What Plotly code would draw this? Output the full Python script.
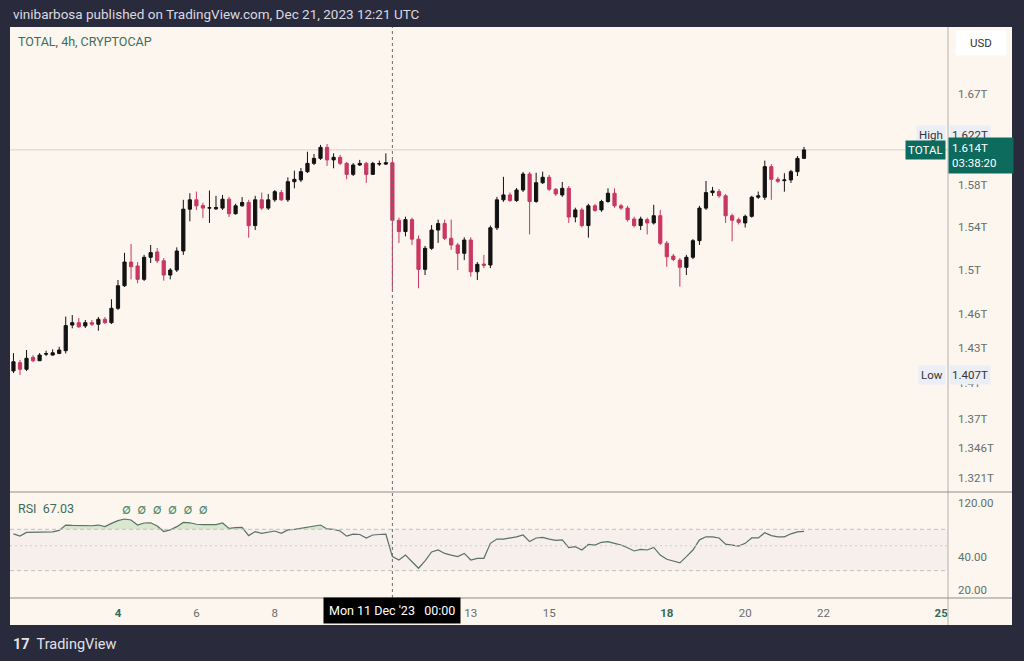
import numpy as np
import pandas as pd
import plotly.graph_objects as go

# ---------------- data (TOTAL crypto market cap, 4h candles, trillions USD) ----------------
start_time = "2023-12-01 08:00"
n_bars = 122

opens = [1.4105,1.4176,1.4119,1.4222,1.4193,1.4250,1.4242,1.4256,1.4280,1.4505,
         1.4526,1.4497,1.4526,1.4512,1.4556,1.4526,1.4654,1.4857,1.5073,1.5037,
         1.4915,1.5117,1.5166,1.5085,1.4954,1.5000,1.5175,1.5567,1.5656,1.5602,
         1.5577,1.5570,1.5577,1.5662,1.5524,1.5599,1.5631,1.5412,1.5656,1.5577,
         1.5656,1.5725,1.5656,1.5830,1.5847,1.5927,1.6008,1.6057,1.6165,1.6042,
         1.6067,1.6008,1.5901,1.5992,1.6008,1.5901,1.6001,1.6001,1.6014,1.5462,
         1.5356,1.5468,1.5285,1.5006,1.5200,1.5370,1.5431,1.5293,1.5231,1.5154,
         1.5277,1.4984,1.5055,1.5046,1.5391,1.5656,1.5703,1.5649,1.5750,1.5904,
         1.5640,1.5820,1.5873,1.5757,1.5703,1.5766,1.5493,1.5560,1.5412,1.5599,
         1.5560,1.5640,1.5719,1.5599,1.5577,1.5474,1.5412,1.5468,1.5437,1.5505,
         1.5247,1.5128,1.5091,1.5025,1.5117,1.5271,1.5577,1.5725,1.5735,1.5694,
         1.5505,1.5468,1.5437,1.5499,1.5681,1.5681,1.5976,1.5853,1.5840,1.5847,
         1.5927,1.6057]

highs = [1.4259,1.4200,1.4286,1.4242,1.4259,1.4280,1.4292,1.4314,1.4580,1.4594,
         1.4567,1.4550,1.4550,1.4576,1.4576,1.4735,1.4909,1.5158,1.5240,1.5073,
         1.5139,1.5231,1.5203,1.5110,1.5018,1.5209,1.5656,1.5719,1.5735,1.5628,
         1.5745,1.5694,1.5703,1.5684,1.5618,1.5682,1.5656,1.5694,1.5726,1.5712,
         1.5750,1.5750,1.5872,1.5937,1.5963,1.6122,1.6100,1.6189,1.6198,1.6106,
         1.6090,1.6023,1.6011,1.6042,1.6023,1.6023,1.6035,1.6106,1.6042,1.5487,
         1.5496,1.5487,1.5320,1.5222,1.5417,1.5468,1.5468,1.5468,1.5250,1.5302,
         1.5302,1.5073,1.5139,1.5412,1.5684,1.5877,1.5726,1.5769,1.5924,1.5924,
         1.5917,1.5927,1.5895,1.5769,1.5828,1.5788,1.5581,1.5581,1.5618,1.5618,
         1.5656,1.5766,1.5766,1.5618,1.5599,1.5496,1.5496,1.5487,1.5609,1.5560,
         1.5268,1.5148,1.5110,1.5139,1.5287,1.5599,1.5837,1.5780,1.5759,1.5712,
         1.5524,1.5487,1.5515,1.5694,1.5735,1.6035,1.6001,1.5876,1.5912,1.5944,
         1.6080,1.6170]

lows = [1.4087,1.4070,1.4104,1.4181,1.4190,1.4233,1.4237,1.4250,1.4256,1.4476,
        1.4479,1.4479,1.4497,1.4455,1.4514,1.4514,1.4639,1.4846,1.4915,1.4879,
        1.4900,1.5064,1.5064,1.4903,1.4915,1.4982,1.5139,1.5452,1.5560,1.5484,
        1.5437,1.5560,1.5560,1.5493,1.5515,1.5590,1.5299,1.5370,1.5560,1.5560,
        1.5637,1.5646,1.5637,1.5766,1.5827,1.5914,1.5992,1.6042,1.5983,1.5960,
        1.5992,1.5853,1.5885,1.5983,1.5819,1.5895,1.5983,1.5992,1.4818,1.5250,
        1.5311,1.5231,1.4834,1.4954,1.5185,1.5250,1.5277,1.5185,1.5000,1.5091,
        1.4939,1.4909,1.5018,1.5018,1.5370,1.5637,1.5637,1.5637,1.5731,1.5329,
        1.5628,1.5808,1.5741,1.5694,1.5684,1.5437,1.5443,1.5394,1.5299,1.5542,
        1.5542,1.5628,1.5581,1.5560,1.5449,1.5394,1.5370,1.5329,1.5422,1.5231,
        1.5030,1.5082,1.4849,1.4954,1.5100,1.5231,1.5560,1.5694,1.5675,1.5437,
        1.5265,1.5422,1.5394,1.5487,1.5665,1.5656,1.5656,1.5818,1.5734,1.5818,
        1.5885,1.6050]

closes = [1.4184,1.4119,1.4214,1.4193,1.4242,1.4254,1.4262,1.4286,1.4500,1.4526,
          1.4490,1.4526,1.4512,1.4556,1.4526,1.4654,1.4857,1.5073,1.5030,1.4915,
          1.5117,1.5160,1.5085,1.4954,1.5000,1.5175,1.5567,1.5656,1.5599,1.5577,
          1.5580,1.5583,1.5662,1.5524,1.5599,1.5631,1.5412,1.5656,1.5577,1.5656,
          1.5734,1.5656,1.5830,1.5853,1.5927,1.6008,1.6057,1.6165,1.6042,1.6067,
          1.6008,1.5901,1.5992,1.6008,1.5901,1.6008,1.6006,1.6014,1.5462,1.5356,
          1.5468,1.5285,1.5006,1.5200,1.5370,1.5431,1.5293,1.5231,1.5154,1.5277,
          1.4984,1.5052,1.5043,1.5391,1.5656,1.5703,1.5649,1.5750,1.5904,1.5640,
          1.5820,1.5873,1.5757,1.5712,1.5766,1.5493,1.5560,1.5412,1.5599,1.5555,
          1.5640,1.5719,1.5599,1.5577,1.5468,1.5412,1.5474,1.5437,1.5505,1.5247,
          1.5122,1.5097,1.5025,1.5117,1.5271,1.5577,1.5725,1.5741,1.5694,1.5505,
          1.5462,1.5443,1.5499,1.5681,1.5694,1.5976,1.5853,1.5834,1.5847,1.5927,
          1.6057,1.6140]

rsi = [63.8,61.0,65.6,65.6,66.0,66.0,66.5,68.4,76.4,75.8,
       75.3,75.8,75.3,76.4,73.9,79.0,83.6,86.4,84.7,76.4,
       79.6,80.0,74.9,66.8,69.2,73.9,80.5,80.0,77.6,77.0,
       77.0,77.0,79.6,71.3,72.3,72.8,61.5,66.8,64.4,65.5,
       67.6,64.4,69.2,70.0,71.3,72.8,73.9,76.4,70.5,70.0,
       67.6,60.8,63.3,62.9,58.6,62.3,62.9,63.3,40.0,37.3,
       41.3,36.3,31.5,36.7,44.0,45.8,42.7,41.3,40.0,42.7,
       37.3,38.6,38.6,52.5,57.3,57.3,58.6,60.0,62.3,54.4,
       58.6,59.3,57.2,55.7,56.4,48.0,49.0,45.8,51.3,50.7,
       53.6,54.4,52.5,50.7,48.0,44.9,46.4,45.8,48.3,41.3,
       37.9,36.7,35.2,40.0,45.8,56.4,60.0,60.0,58.6,51.7,
       50.5,49.7,52.5,58.6,58.6,65.2,61.5,60.0,60.0,63.8,
       66.3,67.03]

price_ticks = [1.321, 1.346, 1.37, 1.4, 1.43, 1.46, 1.5, 1.54, 1.58, 1.67]
price_tick_labels = ["1.321T", "1.346T", "1.37T", "1.4T", "1.43T", "1.46T", "1.5T", "1.54T", "1.58T", "1.67T"]
rsi_ticks = [20, 40, 120]
rsi_tick_labels = ["20.00", "40.00", "120.00"]
# the 11 Dec tick sits under the crosshair date label, so it is not listed
date_ticks = ["2023-12-04", "2023-12-06", "2023-12-08", "2023-12-13",
              "2023-12-15", "2023-12-18", "2023-12-20", "2023-12-22", "2023-12-25"]
date_tick_labels = ["4", "6", "8", "13", "15", "18", "20", "22", "25"]
bold_days = {"4", "18", "25"}
session_high = 1.622
session_low = 1.407
last_price = 1.614
crosshair_time = "2023-12-11 00:00"

# ---------------- figure ----------------
times = pd.date_range(start_time, periods=n_bars, freq="4h")
W, H = 1024, 661
px = lambda v: v / W
py = lambda v: 1 - v / H

x_dom = [px(10), px(948)]
main_dom = [py(492), py(27)]
rsi_dom = [py(598), py(492)]
x_range = ["2023-12-01 05:53", "2023-12-25 04:10"]

CREAM = "#fcf6ee"
DARK = "#292a3b"
UP = "#121212"
DOWN = "#c93762"
GREEN_TXT = "#3d6d5b"
FONT = "Roboto, Inter, sans-serif"

fig = go.Figure()

fig.add_trace(go.Candlestick(
    x=times, open=opens, high=highs, low=lows, close=closes,
    xaxis="x", yaxis="y",
    increasing=dict(line=dict(color=UP, width=1), fillcolor=UP),
    decreasing=dict(line=dict(color=DOWN, width=1), fillcolor=DOWN),
    whiskerwidth=0, showlegend=False, hoverinfo="skip",
))

# RSI overbought fill
rsi_arr = np.array(rsi)
fig.add_trace(go.Scatter(x=times, y=[70] * n_bars, xaxis="x2", yaxis="y2",
                         mode="lines", line=dict(width=0), showlegend=False, hoverinfo="skip"))
fig.add_trace(go.Scatter(x=times, y=np.maximum(rsi_arr, 70), xaxis="x2", yaxis="y2",
                         mode="lines", line=dict(width=0), fill="tonexty",
                         fillcolor="rgba(76,175,80,0.20)", showlegend=False, hoverinfo="skip"))
fig.add_trace(go.Scatter(x=times, y=rsi, xaxis="x2", yaxis="y2", mode="lines",
                         line=dict(color="#5a7169", width=1.2), showlegend=False, hoverinfo="skip"))

axis_common = dict(showgrid=False, zeroline=False, showline=False)
date_text = [f"<b><span style='color:#2f6b58'>{t}</span></b>" if t in bold_days else t
             for t in date_tick_labels]

fig.update_layout(
    width=W, height=H,
    margin=dict(l=0, r=0, t=0, b=0),
    paper_bgcolor=DARK, plot_bgcolor="rgba(0,0,0,0)",
    font=dict(family=FONT, size=11, color="#666"),
    showlegend=False,
    xaxis=dict(domain=x_dom, anchor="y", range=x_range, showticklabels=False,
               rangeslider=dict(visible=False), ticks="", **axis_common),
    yaxis=dict(domain=main_dom, anchor="x", type="log", side="right",
               range=[np.log10(1.3101), np.log10(1.7396)],
               tickvals=price_ticks, ticktext=price_tick_labels, ticks="",
               ticklabelstandoff=9, tickfont=dict(size=11.5, color="#62706a", family=FONT),
               **axis_common),
    xaxis2=dict(domain=x_dom, anchor="y2", range=x_range, type="date",
                tickvals=date_ticks, ticktext=date_text, ticks="",
                ticklabelstandoff=6, tickfont=dict(size=11.5, color="#6b6b6b", family=FONT),
                **axis_common),
    yaxis2=dict(domain=rsi_dom, anchor="x2", type="log", side="right",
                range=[np.log10(17.13), np.log10(150.3)],
                tickvals=rsi_ticks, ticktext=rsi_tick_labels, ticks="",
                ticklabelstandoff=9, tickfont=dict(size=11.5, color="#62706a", family=FONT),
                **axis_common),
)

shapes = [
    # cream chart frame
    dict(type="rect", xref="paper", yref="paper", x0=px(10), x1=px(1012), y0=py(625), y1=py(27),
         fillcolor=CREAM, line=dict(width=0), layer="below"),
    # RSI 30-70 band
    dict(type="rect", xref="x2 domain", yref="y2", x0=0, x1=1, y0=30, y1=70,
         fillcolor="rgba(150,110,200,0.05)", line=dict(width=0), layer="below"),
    dict(type="line", xref="x2 domain", yref="y2", x0=0, x1=1, y0=70, y1=70,
         line=dict(color="#c4c0ba", width=1, dash="4px,3px")),
    dict(type="line", xref="x2 domain", yref="y2", x0=0, x1=1, y0=50, y1=50,
         line=dict(color="#d3cfca", width=1, dash="2px,3px")),
    dict(type="line", xref="x2 domain", yref="y2", x0=0, x1=1, y0=30, y1=30,
         line=dict(color="#c4c0ba", width=1, dash="4px,3px")),
    # last price line
    dict(type="line", xref="x domain", yref="y", x0=0, x1=1, y0=last_price, y1=last_price,
         line=dict(color="#dccfc7", width=1), layer="below"),
    # pane separators
    dict(type="line", xref="paper", yref="paper", x0=px(948), x1=px(948), y0=py(625), y1=py(27),
         line=dict(color="#b3b1ab", width=1)),
    dict(type="line", xref="paper", yref="paper", x0=px(10), x1=px(1012), y0=py(492), y1=py(492),
         line=dict(color="#8e8c88", width=1)),
    dict(type="line", xref="paper", yref="paper", x0=px(10), x1=px(1012), y0=py(598), y1=py(598),
         line=dict(color="#8e8c88", width=1)),
    # crosshair
    dict(type="line", xref="x", yref="paper", x0=crosshair_time, x1=crosshair_time,
         y0=py(598), y1=py(27), line=dict(color="#6a6a6a", width=1, dash="3px,3px")),
]
fig.update_layout(shapes=shapes)

ann = []
def add(text, x, y, xref="paper", yref="paper", xanchor="left", yanchor="middle", size=11,
        color="#333", bg=None, pad=2, yshift=0, align="left", family=FONT, width=None, height=None):
    d = dict(text=text, x=x, y=y, xref=xref, yref=yref, xanchor=xanchor, yanchor=yanchor,
             showarrow=False, font=dict(size=size, color=color, family=family),
             borderpad=pad, yshift=yshift, align=align)
    if bg:
        d["bgcolor"] = bg
    if width:
        d["width"] = width
    if height:
        d["height"] = height
    ann.append(d)

add("vinibarbosa published on TradingView.com, Dec 21, 2023 12:21 UTC", px(10), py(14),
    size=13.5, color="#d9d9e0")
add("TOTAL, 4h, CRYPTOCAP", px(15), py(41), size=12.5, color=GREEN_TXT)
add("USD", px(955), py(43), xanchor="left", size=11.5, color="#333", bg="#ffffff", pad=2,
    width=46, height=20, align="center")

# High / Low / last price labels
add("High", px(946), np.log10(session_high), yref="y", xanchor="right", size=11.5,
    color="#333", bg="#eceef6", yshift=7, pad=2)
add(f"{session_high}T", px(949), np.log10(session_high), yref="y", size=11.5,
    color="#333", bg="#eceef6", yshift=7, pad=2)
add("TOTAL", px(946), np.log10(last_price), yref="y", xanchor="right", size=11.5,
    color="#ffffff", bg="#0d6b5d", pad=2)
add(f"{last_price}T<br>03:38:20", px(948), np.log10(last_price), yref="y", size=11.5,
    color="#ffffff", bg="#0d6b5d", yshift=-6, pad=3, width=58)
add("Low", px(946), np.log10(session_low), yref="y", xanchor="right", size=11.5,
    color="#333", bg="#eceef6", pad=2)
add(f"{session_low}T", px(949), np.log10(session_low), yref="y", size=11.5,
    color="#333", bg="#eceef6", pad=2)

add(f"RSI  {rsi[-1]:.2f}", px(15), py(508), size=12.5, color=GREEN_TXT)
add("∅  ∅  ∅  ∅  ∅  ∅", px(119), py(509), size=13, color="#4d8a6c")

add("Mon 11 Dec '23   00:00", crosshair_time, py(610), xref="x2", xanchor="center",
    size=12.5, color="#ffffff", bg="#000000", pad=5)

add("<b>17</b>  TradingView", px(10), py(644), size=14.5, color="#e2e2e8")

fig.update_layout(annotations=ann)

fig.write_html("out.html")
